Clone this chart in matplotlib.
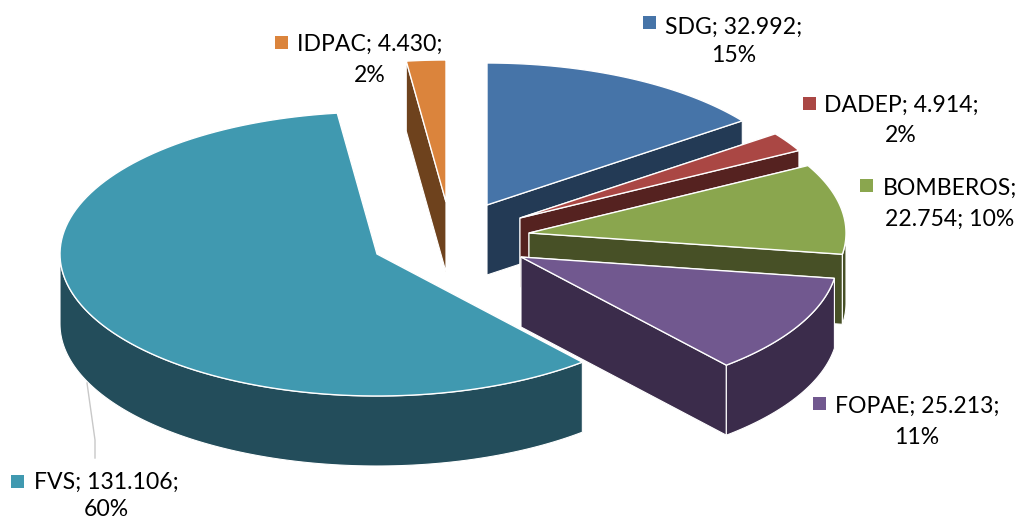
import numpy as np
import matplotlib
matplotlib.use('Agg')
import matplotlib.pyplot as plt
from matplotlib.patches import Polygon, Rectangle

plt.rcParams['font.family'] = ['Lato', 'DejaVu Sans']

# data, clockwise from 12 o'clock
names = ['SDG', 'DADEP', 'BOMBEROS', 'FOPAE', 'FVS', 'IDPAC']
values = [32992, 4914, 22754, 25213, 131106, 4430]
pcts = [15, 2, 10, 11, 60, 2]

# look of each slice
top_colors = ['#4674A8', '#AA4744', '#8AA64E', '#71588F', '#4099B0', '#DB843C']
side_colors = ['#233A55', '#552220', '#475026', '#3B2C4B', '#234D5B', '#6E421D']
centers = [(487, 205), (520, 218), (529, 233), (521, 257), (377, 254), (446, 202)]
draw_order = [5, 0, 1, 2, 3, 4]

# label layout: name line, second line and legend key in pixels
label_lines = [
    ('{n}; {v};', '{p}%'),
    ('{n}; {v};', '{p}%'),
    ('{n};', '{v}; {p}%'),
    ('{n}; {v};', '{p}%'),
    ('{n}; {v};', '{p}%'),
    ('{n}; {v};', '{p}%'),
]
label_pos = [(734, 27, 56), (901, 105, 136), (950, 188, 219),
             (917, 406, 437), (106, 482, 510), (370, 44, 76)]
key_pos = [(650, 22), (810, 103), (867, 185), (820, 403), (18, 481), (282, 42)]

rx, ry, depth = 317, 142, 70
label_size = 16.6

fig = plt.figure(figsize=(10.19, 5.21), dpi=100)
ax = fig.add_axes([0, 0, 1, 1])
ax.set_xlim(0, 1019)
ax.set_ylim(521, 0)
ax.axis('off')


def rim(cx, cy, a0, a1):
    t = np.radians(np.linspace(a0, a1, 120))
    return np.column_stack([cx + rx * np.sin(t), cy - ry * np.cos(t)])


edges = np.concatenate([[0], np.cumsum(values)]) / sum(values) * 360

for i in draw_order:
    cx, cy = centers[i]
    a0, a1 = edges[i], edges[i + 1]
    arc = rim(cx, cy, a0, a1)
    down = np.array([0, depth])
    apex = np.array([cx, cy])
    # cut faces
    for p in (arc[0], arc[-1]):
        wall = [apex, p, p + down, apex + down]
        ax.add_patch(Polygon(wall, fc=side_colors[i], ec='white', lw=0.8, joinstyle='round'))
    # outer wall, only the front half of the rim shows
    f0, f1 = max(a0, 90), min(a1, 270)
    if f1 > f0:
        front = rim(cx, cy, f0, f1)
        ax.add_patch(Polygon(np.vstack([front, front[::-1] + down]),
                             fc=side_colors[i], ec='white', lw=0.8))
    ax.add_patch(Polygon(np.vstack([apex, arc]), fc=top_colors[i], ec='white', lw=1.0))

# leader line of FVS
ax.plot([87, 95, 95], [383, 440, 458], color='#c8c8c8', lw=1)

for i, name in enumerate(names):
    v = f'{values[i]:,}'.replace(',', '.')
    x, y1, y2 = label_pos[i]
    l1, l2 = label_lines[i]
    ax.text(x, y1, l1.format(n=name, v=v, p=pcts[i]), fontsize=label_size, ha='center', va='center', color='black')
    ax.text(x, y2, l2.format(n=name, v=v, p=pcts[i]), fontsize=label_size, ha='center', va='center', color='black')
    kx, ky = key_pos[i]
    ax.add_patch(Rectangle((kx - 6.5, ky - 6.5), 13, 13, fc=top_colors[i], ec='none'))

fig.savefig('out.png', dpi=100)
